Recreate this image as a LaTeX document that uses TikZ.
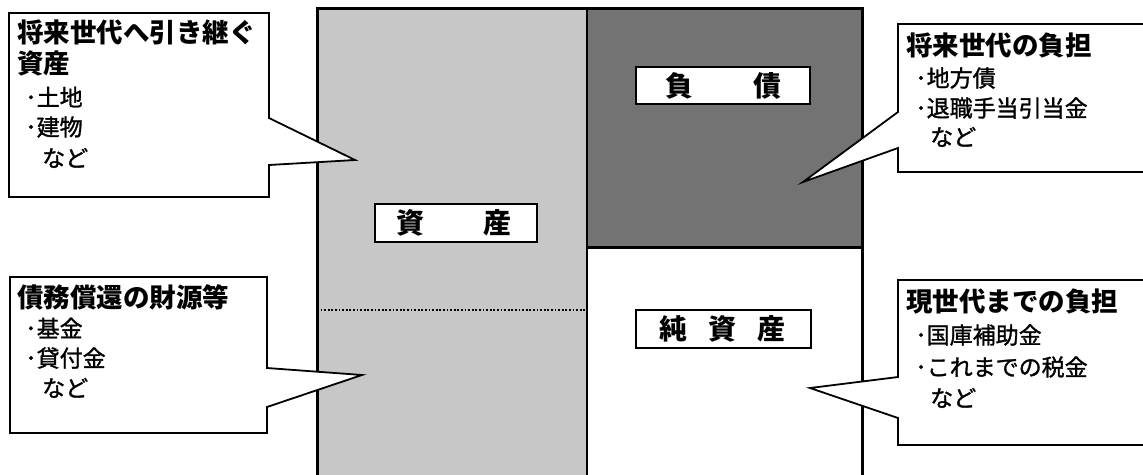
\documentclass[tikz,border=0pt]{standalone}
\usepackage{fontspec}
\newfontfamily\jp{Noto Sans CJK JP}
\newfontfamily\jpm{Noto Sans CJK JP}[FakeBold=1.3]
\colorlet{assetgray}{black!22}
\colorlet{debtgray}{black!55}
\tikzset{
  ttl/.style={anchor=west, inner sep=0pt, font=\jp\bfseries\fontsize{26.5}{26.5}\selectfont},
  itm/.style={anchor=west, inner sep=0pt, font=\jpm\fontsize{23}{23}\selectfont},
  lbl/.style={inner sep=0pt, font=\jp\bfseries\fontsize{28}{28}\selectfont},
  lblbox/.style={draw=black, fill=white, line width=1.6pt},
  callout/.style={draw=black, fill=white, line width=1.8pt, line join=miter},
  frame/.style={draw=black, line width=3pt},
}
\begin{document}
\begin{tikzpicture}[x=1pt, y=-1pt]
\useasboundingbox (0,0) rectangle (1143,474);
% fills
\fill[assetgray] (317,8) rectangle (587,480);
\fill[debtgray] (587,8) rectangle (862,247);
\draw[black, line width=1.6pt, dash pattern=on 1.8pt off 1.8pt] (317,310) -- (587,310);
% frame
\draw[frame] (317,480) -- (317,8) -- (862,8) -- (862,480);
\draw[frame, line width=2.6pt] (587,8) -- (587,480);
\draw[frame] (587,247) -- (862,247);
% labels
\draw[lblbox] (375,204) rectangle (537,242);
\node[lbl] (shi1) at (410,223) {資};
\node[lbl] (san1) at (497,223) {産};
\draw[lblbox] (636,67) rectangle (810,104);
\node[lbl] (fu) at (679,85.5) {負};
\node[lbl] (sai) at (767,85.5) {債};
\draw[lblbox] (636,310) rectangle (811,348);
\node[lbl] (jun) at (673,329) {純};
\node[lbl] (shi2) at (722,329) {資};
\node[lbl] (san2) at (771,329) {産};
% callouts
\draw[callout] (9,13) -- (269,13) -- (269,118) -- (355,160) -- (269,165) -- (269,197) -- (9,197) -- cycle;
\draw[callout] (10,277) -- (267,277) -- (267,368) -- (362,375) -- (267,407) -- (267,433) -- (10,433) -- cycle;
\draw[callout] (898,24) -- (1150,24) -- (1150,172) -- (898,172) -- (898,148) -- (803,182) -- (898,112) -- cycle;
\draw[callout] (898,280) -- (1150,280) -- (1150,445) -- (898,445) -- (898,418) -- (810,388) -- (898,377) -- cycle;
% texts top-left
\node[ttl] (tl1) at (17,32) {将来世代へ引き継ぐ};
\node[ttl] (tl2) at (17,63) {資産};
\node[itm] (tl3) at (25,97) {･土地};
\node[itm] (tl4) at (25,127) {･建物};
\node[itm] (tl5) at (42,158) {など};
% bottom-left
\node[ttl] (bl1) at (17,297) {債務償還の財源等};
\node[itm] (bl2) at (25,328) {･基金};
\node[itm] (bl3) at (25,358) {･貸付金};
\node[itm] (bl4) at (42,388) {など};
% top-right
\node[ttl] (tr1) at (906,45) {将来世代の負担};
\node[itm] (tr2) at (915,78) {･地方債};
\node[itm] (tr3) at (915,108) {･退職手当引当金};
\node[itm] (tr4) at (930,137) {など};
% bottom-right
\node[ttl] (br1) at (906,302) {現世代までの負担};
\node[itm] (br2) at (915,335) {･国庫補助金};
\node[itm] (br3) at (915,367) {･これまでの税金};
\node[itm] (br4) at (930,398) {など};
\end{tikzpicture}
\end{document}
